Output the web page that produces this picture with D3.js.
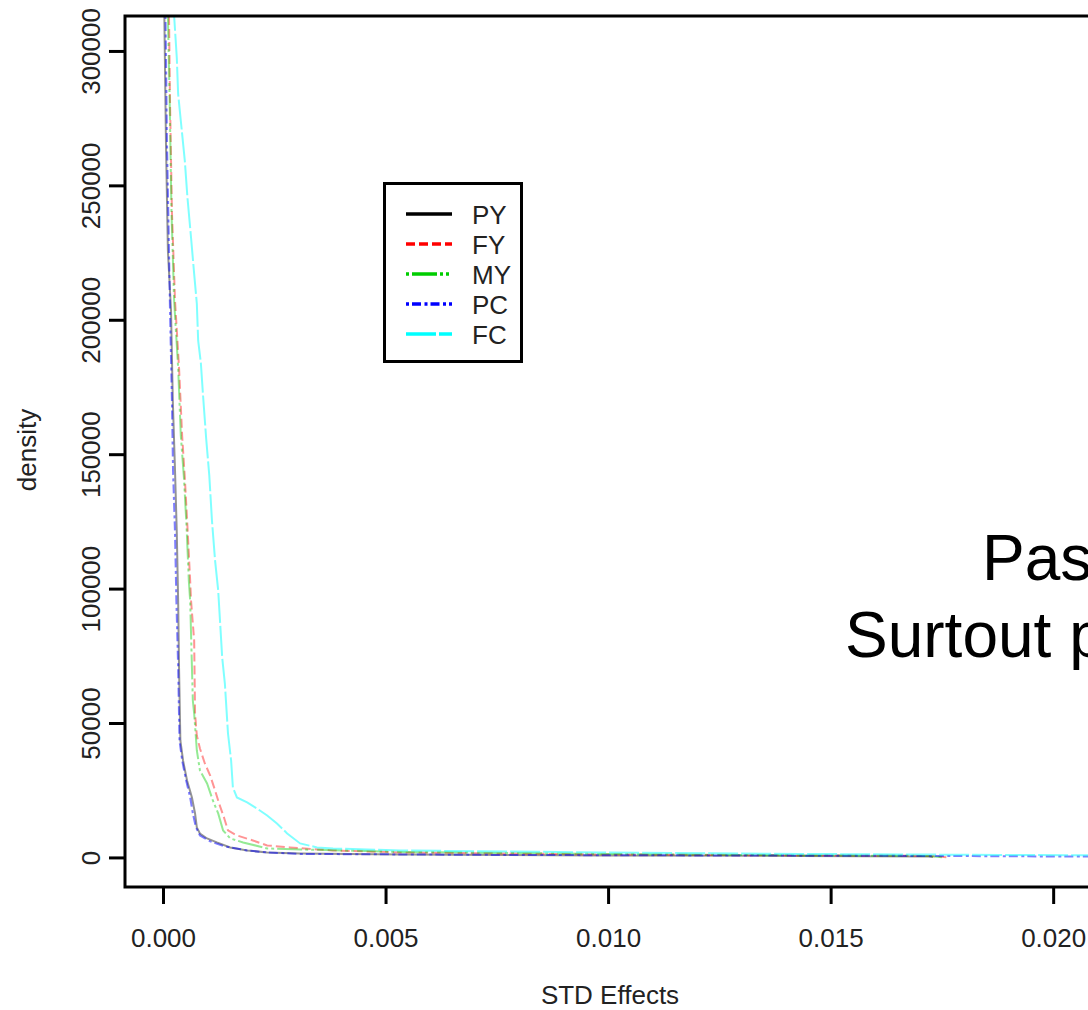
<!DOCTYPE html>
<html>
<head>
<meta charset="utf-8">
<script src="https://cdn.jsdelivr.net/npm/d3@7"></script>
<style>
  body { margin: 0; background: #fff; }
  svg { display: block; font-family: "Liberation Sans", Arial, Helvetica, sans-serif; }
</style>
</head>
<body>
<svg></svg>
<script>
// series names and the density curves
let seriesNames = ["PY", "FY", "MY", "PC", "FC"]

let pyEffect = [0, 0.00003, 0.000067, 0.00011, 0.00018, 0.00022, 0.00027, 0.00031, 0.00034, 0.00036, 0.00039, 0.00045, 0.00054, 0.00065, 0.00072, 0.00076, 0.00083, 0.00099, 0.00121, 0.00151, 0.00189, 0.00234, 0.00308, 0.00533, 0.0098, 0.0143, 0.0172, 0.0173]
let pyDensity = [420000, 313000, 265400, 225650, 203350, 169900, 143870, 120450, 95540, 70630, 43500, 36060, 28620, 22300, 16360, 11150, 8920, 7060, 5580, 3720, 2600, 1860, 1490, 1100, 740, 560, 370, 200]

let fyEffect = [0, 0.000135, 0.000157, 0.0002, 0.00027, 0.00036, 0.00043, 0.00049, 0.00055, 0.00061, 0.00063, 0.0007, 0.00072, 0.00076, 0.00083, 0.00094, 0.00106, 0.00117, 0.00126, 0.00137, 0.00146, 0.00166, 0.00202, 0.00234, 0.00285, 0.00346, 0.00382, 0.00533, 0.0098, 0.0143, 0.0172, 0.0176]
let fyDensity = [400000, 313000, 281400, 240500, 207070, 182160, 156880, 141260, 122680, 102970, 95540, 80670, 53530, 45350, 40520, 34950, 30480, 24910, 20070, 14870, 10040, 8180, 6320, 4460, 3720, 2970, 2600, 1860, 1120, 740, 560, 100]

let myEffect = [0, 0.00011, 0.00015, 0.00019, 0.00025, 0.00034, 0.0004, 0.00047, 0.00053, 0.00058, 0.00061, 0.00067, 0.0007, 0.00076, 0.00083, 0.00099, 0.00112, 0.00124, 0.00135, 0.00151, 0.0018, 0.00234, 0.00308, 0.00533, 0.0098, 0.0143, 0.0172, 0.0175]
let myDensity = [390000, 313000, 281400, 240500, 207070, 182160, 156880, 141260, 122680, 102970, 95540, 58360, 53530, 39780, 32340, 27510, 21190, 16360, 10040, 7060, 5580, 3350, 2970, 2040, 1300, 740, 560, 100]

let pcEffect = [0, 0.000056, 0.00009, 0.000135, 0.000157, 0.0002, 0.000225, 0.00027, 0.0003, 0.00034, 0.00037, 0.00043, 0.00052, 0.00061, 0.00067, 0.00074, 0.00083, 0.00106, 0.00139, 0.00189, 0.00234, 0.00308, 0.0076, 0.0121, 0.0172, 0.0199, 0.0215]
let pcDensity = [430000, 313000, 265400, 225650, 203350, 169900, 143870, 120450, 95540, 70630, 43500, 36060, 28620, 22300, 16360, 11150, 8180, 5950, 4090, 2600, 1860, 1300, 930, 740, 560, 370, 370]

let fcEffect = [0.0001, 0.00025, 0.00031, 0.00034, 0.0004, 0.00049, 0.00055, 0.00063, 0.0007, 0.00076, 0.00079, 0.00085, 0.0009, 0.00097, 0.00104, 0.0011, 0.00117, 0.00124, 0.00133, 0.00139, 0.00146, 0.00153, 0.00157, 0.00166, 0.00189, 0.00211, 0.00234, 0.00256, 0.00279, 0.00308, 0.00346, 0.00382, 0.00458, 0.00533, 0.0098, 0.0143, 0.0188, 0.0215]
let fcDensity = [380000, 313000, 297400, 284000, 274000, 259100, 245300, 230500, 217100, 205950, 192200, 184000, 171750, 155760, 142010, 125280, 110410, 99260, 74350, 64680, 46100, 36060, 26020, 22300, 20450, 18220, 15610, 12640, 8920, 5200, 3720, 3350, 2970, 2600, 1860, 1300, 930, 740]

// tick values and labels
let xTickValues = [0, 0.005, 0.01, 0.015, 0.02]
let xTickLabels = ["0.000", "0.005", "0.010", "0.015", "0.020"]
let yTickValues = [0, 50000, 100000, 150000, 200000, 250000, 300000]
let yTickLabels = ["0", "50000", "100000", "150000", "200000", "250000", "300000"]

// styles for each series
let colors = ["#000000", "#ff0000", "#00cd00", "#0000ff", "#00ffff"]
let dashes = [null, "9,4", "3,3,25,3,3,3", "3,3,9,3.5", "30,3"]

let width = 1088
let height = 1010
let xScale
let yScale

let svg = d3.select("svg")

let drawCanvas = function() {
  svg.attr("width", width)
  svg.attr("height", height)
}

let generateScales = function() {
  xScale = d3.scaleLinear()
             .domain([-0.000854, 0.02094])
             .range([125, 1095])
  yScale = d3.scaleLinear()
             .domain([-11000, 313000])
             .range([887, 16])
}

let drawCurves = function() {
  let series = [
    [pyEffect, pyDensity],
    [fyEffect, fyDensity],
    [myEffect, myDensity],
    [pcEffect, pcDensity],
    [fcEffect, fcDensity]
  ]

  svg.append("clipPath")
     .attr("id", "plot-clip")
     .append("rect")
     .attr("x", xScale.range()[0])
     .attr("y", yScale.range()[1])
     .attr("width", xScale.range()[1] - xScale.range()[0])
     .attr("height", yScale.range()[0] - yScale.range()[1])

  let line = d3.line()
               .x((d) => xScale(d[0]))
               .y((d) => yScale(d[1]))

  let curves = svg.append("g").attr("clip-path", "url(#plot-clip)")

  series.forEach(function(s, i) {
    let points = s[0].map((x, j) => [x, s[1][j]])
    curves.append("path")
          .datum(points)
          .attr("d", line)
          .attr("fill", "none")
          .attr("stroke", colors[i])
          .attr("stroke-width", 2)
          .attr("stroke-opacity", i >= 3 ? 0.5 : 0.42)
          .attr("stroke-dasharray", dashes[i])
  })

  // the note in the plot, cut by the right side of the picture
  let note = curves.append("g").attr("font-size", 64).attr("fill", "#000")
  note.append("text").attr("x", 982).attr("y", 580).text("Pas")
  note.append("text").attr("x", 845).attr("y", 657).text("Surtout p")
}

let generateAxis = function() {
  let xAxis = d3.axisBottom(xScale)
                .tickValues(xTickValues)
                .tickFormat((d, i) => xTickLabels[i])
                .tickSize(17)
                .tickPadding(25)
  let yAxis = d3.axisLeft(yScale)
                .tickValues(yTickValues)
                .tickFormat((d, i) => yTickLabels[i])
                .tickSize(16)

  let gx = svg.append("g")
              .attr("id", "x-axis")
              .attr("transform", "translate(0," + yScale.range()[0] + ")")
              .call(xAxis)
  let gy = svg.append("g")
              .attr("id", "y-axis")
              .attr("transform", "translate(" + xScale.range()[0] + ",0)")
              .call(yAxis)

  svg.selectAll("#x-axis .domain, #y-axis .domain").remove()
  svg.selectAll("#x-axis line, #y-axis line").attr("stroke", "#000").attr("stroke-width", 3)
  svg.selectAll("#x-axis text, #y-axis text")
     .attr("font-size", 26)
     .attr("font-family", null)
     .attr("fill", "#222")

  // y labels run along the axis like in R
  gy.selectAll("text")
    .attr("x", null)
    .attr("dy", null)
    .attr("text-anchor", "middle")
    .attr("transform", "translate(-25,0) rotate(-90)")

  // plot box
  svg.append("rect")
     .attr("x", xScale.range()[0])
     .attr("y", yScale.range()[1])
     .attr("width", xScale.range()[1] - xScale.range()[0])
     .attr("height", yScale.range()[0] - yScale.range()[1])
     .attr("fill", "none")
     .attr("stroke", "#000")
     .attr("stroke-width", 3)

  // axis titles
  svg.append("text")
     .attr("x", 610)
     .attr("y", 1004)
     .attr("text-anchor", "middle")
     .attr("font-size", 26)
     .attr("fill", "#222")
     .text("STD Effects")

  svg.append("text")
     .attr("transform", "translate(36,450) rotate(-90)")
     .attr("text-anchor", "middle")
     .attr("font-size", 26)
     .attr("fill", "#222")
     .text("density")
}

let drawLegend = function() {
  let legendBox = svg.append("g").attr("id", "legend")
  legendBox.append("rect")
           .attr("x", 384.5)
           .attr("y", 183.5)
           .attr("width", 137)
           .attr("height", 178)
           .attr("fill", "#fff")
           .attr("stroke", "#000")
           .attr("stroke-width", 3)

  let items = legendBox.selectAll("g.item")
                       .data(seriesNames)
                       .enter()
                       .append("g")
                       .attr("class", "item")
                       .attr("transform", (d, i) => "translate(0," + (214 + i * 30) + ")")

  items.append("line")
       .attr("x1", 406)
       .attr("x2", 452)
       .attr("stroke", (d, i) => colors[i])
       .attr("stroke-width", 3.5)
       .attr("stroke-dasharray", (d, i) => dashes[i])

  items.append("text")
       .attr("x", 472)
       .attr("y", 9.5)
       .attr("font-size", 26)
       .attr("fill", "#222")
       .text((d) => d)
}

drawCanvas()
generateScales()
drawCurves()
generateAxis()
drawLegend()
</script>
</body>
</html>
